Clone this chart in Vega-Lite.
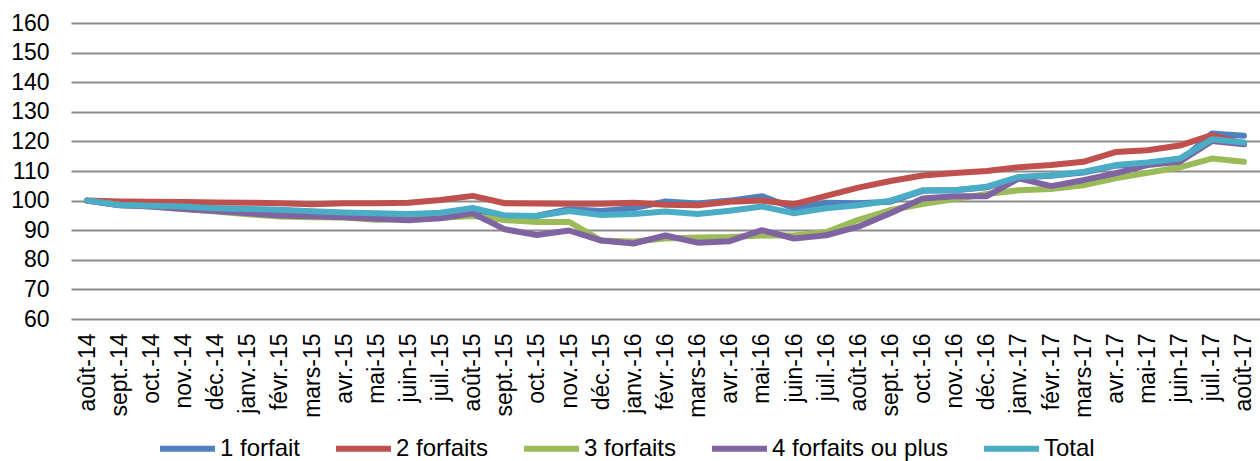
{
  "$schema": "https://vega.github.io/schema/vega-lite/v6.json",
  "autosize": {"type": "none"},
  "width": 1189,
  "height": 296,
  "padding": {"left": 71, "top": 23, "right": 0, "bottom": 142},
  "background": "white",
  "config": {
    "view": {"stroke": null},
    "font": "Liberation Sans",
    "axis": {"labelColor": "#000000", "labelFont": "Liberation Sans", "labelFontSize": 23}
  },
  "data": {
    "values": [
      {"mois": "août-14", "1 forfait": 100, "2 forfaits": 100, "3 forfaits": 100, "4 forfaits ou plus": 100, "Total": 100},
      {"mois": "sept.-14", "1 forfait": 98.4, "2 forfaits": 99.7, "3 forfaits": 98.6, "4 forfaits ou plus": 98.5, "Total": 98.5},
      {"mois": "oct.-14", "1 forfait": 98.2, "2 forfaits": 99.6, "3 forfaits": 98.0, "4 forfaits ou plus": 98.0, "Total": 98.3},
      {"mois": "nov.-14", "1 forfait": 97.8, "2 forfaits": 99.5, "3 forfaits": 97.2, "4 forfaits ou plus": 97.2, "Total": 98.0},
      {"mois": "déc.-14", "1 forfait": 97.3, "2 forfaits": 99.4, "3 forfaits": 96.3, "4 forfaits ou plus": 96.5, "Total": 97.4},
      {"mois": "janv.-15", "1 forfait": 97.0, "2 forfaits": 99.3, "3 forfaits": 95.4, "4 forfaits ou plus": 95.7, "Total": 97.2},
      {"mois": "févr.-15", "1 forfait": 96.7, "2 forfaits": 99.1, "3 forfaits": 94.6, "4 forfaits ou plus": 95.0, "Total": 96.9},
      {"mois": "mars-15", "1 forfait": 96.2, "2 forfaits": 98.8, "3 forfaits": 94.4, "4 forfaits ou plus": 94.7, "Total": 96.4},
      {"mois": "avr.-15", "1 forfait": 95.7, "2 forfaits": 99.1, "3 forfaits": 94.3, "4 forfaits ou plus": 94.4, "Total": 96.0},
      {"mois": "mai-15", "1 forfait": 95.2, "2 forfaits": 99.1, "3 forfaits": 93.5, "4 forfaits ou plus": 93.9, "Total": 95.7},
      {"mois": "juin-15", "1 forfait": 93.8, "2 forfaits": 99.3, "3 forfaits": 93.8, "4 forfaits ou plus": 93.4, "Total": 95.5},
      {"mois": "juil.-15", "1 forfait": 94.3, "2 forfaits": 100.2, "3 forfaits": 94.2, "4 forfaits ou plus": 94.0, "Total": 95.9},
      {"mois": "août-15", "1 forfait": 97.0, "2 forfaits": 101.6, "3 forfaits": 94.8, "4 forfaits ou plus": 95.7, "Total": 97.5},
      {"mois": "sept.-15", "1 forfait": 94.8, "2 forfaits": 99.1, "3 forfaits": 93.4, "4 forfaits ou plus": 90.3, "Total": 95.0},
      {"mois": "oct.-15", "1 forfait": 94.9, "2 forfaits": 99.0, "3 forfaits": 92.8, "4 forfaits ou plus": 88.4, "Total": 94.8},
      {"mois": "nov.-15", "1 forfait": 97.1, "2 forfaits": 98.9, "3 forfaits": 92.8, "4 forfaits ou plus": 89.9, "Total": 96.5},
      {"mois": "déc.-15", "1 forfait": 96.5, "2 forfaits": 98.9, "3 forfaits": 86.5, "4 forfaits ou plus": 86.5, "Total": 95.1},
      {"mois": "janv.-16", "1 forfait": 97.4, "2 forfaits": 99.3, "3 forfaits": 86.2, "4 forfaits ou plus": 85.5, "Total": 95.5},
      {"mois": "févr.-16", "1 forfait": 99.7, "2 forfaits": 98.6, "3 forfaits": 87.2, "4 forfaits ou plus": 88.2, "Total": 96.3},
      {"mois": "mars-16", "1 forfait": 99.0, "2 forfaits": 98.4, "3 forfaits": 87.5, "4 forfaits ou plus": 85.8, "Total": 95.5},
      {"mois": "avr.-16", "1 forfait": 100.0, "2 forfaits": 99.6, "3 forfaits": 87.7, "4 forfaits ou plus": 86.3, "Total": 96.6},
      {"mois": "mai-16", "1 forfait": 101.5, "2 forfaits": 100.0, "3 forfaits": 88.2, "4 forfaits ou plus": 90.0, "Total": 98.0},
      {"mois": "juin-16", "1 forfait": 97.4, "2 forfaits": 98.8, "3 forfaits": 88.2, "4 forfaits ou plus": 87.2, "Total": 95.7},
      {"mois": "juil.-16", "1 forfait": 99.3, "2 forfaits": 101.6, "3 forfaits": 89.4, "4 forfaits ou plus": 88.3, "Total": 97.4},
      {"mois": "août-16", "1 forfait": 99.1, "2 forfaits": 104.4, "3 forfaits": 93.5, "4 forfaits ou plus": 91.2, "Total": 98.4},
      {"mois": "sept.-16", "1 forfait": 99.6, "2 forfaits": 106.6, "3 forfaits": 96.8, "4 forfaits ou plus": 95.7, "Total": 100.0},
      {"mois": "oct.-16", "1 forfait": 103.3, "2 forfaits": 108.5, "3 forfaits": 98.8, "4 forfaits ou plus": 100.7, "Total": 103.5},
      {"mois": "nov.-16", "1 forfait": 103.5, "2 forfaits": 109.3, "3 forfaits": 100.5, "4 forfaits ou plus": 101.5, "Total": 103.5},
      {"mois": "déc.-16", "1 forfait": 104.5, "2 forfaits": 110.0, "3 forfaits": 102.2, "4 forfaits ou plus": 101.5, "Total": 104.7},
      {"mois": "janv.-17", "1 forfait": 107.8, "2 forfaits": 111.3, "3 forfaits": 103.5, "4 forfaits ou plus": 107.5, "Total": 108.0},
      {"mois": "févr.-17", "1 forfait": 108.4, "2 forfaits": 112.0, "3 forfaits": 103.9, "4 forfaits ou plus": 104.9, "Total": 108.6},
      {"mois": "mars-17", "1 forfait": 109.5, "2 forfaits": 113.1, "3 forfaits": 105.2, "4 forfaits ou plus": 106.9, "Total": 109.7},
      {"mois": "avr.-17", "1 forfait": 111.8, "2 forfaits": 116.4, "3 forfaits": 107.5, "4 forfaits ou plus": 109.2, "Total": 112.0},
      {"mois": "mai-17", "1 forfait": 112.5, "2 forfaits": 117.0, "3 forfaits": 109.4, "4 forfaits ou plus": 112.0, "Total": 112.9},
      {"mois": "juin-17", "1 forfait": 113.1, "2 forfaits": 118.6, "3 forfaits": 111.2, "4 forfaits ou plus": 113.1, "Total": 114.2},
      {"mois": "juil.-17", "1 forfait": 122.7, "2 forfaits": 122.1, "3 forfaits": 114.2, "4 forfaits ou plus": 120.1, "Total": 120.7},
      {"mois": "août-17", "1 forfait": 121.9, "2 forfaits": 119.2, "3 forfaits": 113.1, "4 forfaits ou plus": 119.0, "Total": 119.6}
    ]
  },
  "transform": [
    {"fold": ["1 forfait", "2 forfaits", "3 forfaits", "4 forfaits ou plus", "Total"], "as": ["serie", "indice"]}
  ],
  "mark": {"type": "line", "strokeWidth": 6, "strokeJoin": "round", "strokeCap": "round"},
  "encoding": {
    "x": {
      "field": "mois",
      "type": "ordinal",
      "sort": null,
      "title": null,
      "axis": {"labelAngle": -90, "domain": false, "ticks": false, "grid": false, "labelPadding": 14}
    },
    "y": {
      "field": "indice",
      "type": "quantitative",
      "title": null,
      "scale": {"domain": [60, 160], "nice": false, "zero": false},
      "axis": {
        "values": [60, 70, 80, 90, 100, 110, 120, 130, 140, 150, 160],
        "domain": false,
        "ticks": false,
        "labelPadding": 22,
        "gridColor": "#8c8c8c",
        "gridWidth": 2,
        "gridOpacity": 1
      }
    },
    "color": {
      "field": "serie",
      "type": "nominal",
      "title": null,
      "scale": {
        "domain": ["1 forfait", "2 forfaits", "3 forfaits", "4 forfaits ou plus", "Total"],
        "range": ["#4F81BD", "#C0504D", "#9BBB59", "#8064A2", "#4BACC6"]
      },
      "legend": {
        "orient": "none",
        "direction": "horizontal",
        "legendX": 86,
        "legendY": 395,
        "padding": 0,
        "symbolType": "stroke",
        "symbolSize": 3025,
        "symbolStrokeWidth": 6,
        "labelOffset": 2,
        "columnPadding": 23,
        "labelFont": "Liberation Sans",
        "labelFontSize": 24,
        "labelColor": "#000000",
        "labelLimit": 400
      }
    }
  }
}
